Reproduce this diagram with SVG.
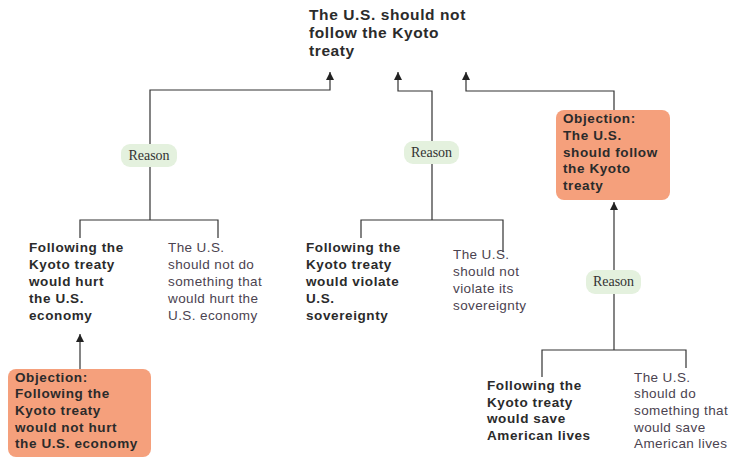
<svg xmlns="http://www.w3.org/2000/svg" width="730" height="457" viewBox="0 0 730 457">
<defs>
<marker id="arr" markerUnits="userSpaceOnUse" markerWidth="8" markerHeight="8" refX="8" refY="4" orient="auto">
<path d="M0,0 L8,4 L0,8 z" fill="#222"/>
</marker>
<style>
.ln{fill:none;stroke:#333;stroke-width:1.2}
.b{font-family:"Liberation Sans",Arial,sans-serif;font-weight:bold;font-size:13.5px;letter-spacing:0.6px;fill:#2b2b2b}
.main{font-size:15.5px;letter-spacing:0.6px}
.p{font-family:"Liberation Sans",Arial,sans-serif;font-size:13.5px;letter-spacing:0.4px;fill:#4b4350}
.obj{fill:#f5a07c}
.pill{fill:#e4f1de}
.rs{font-family:"Liberation Serif","Times New Roman",serif;font-size:14px;fill:#333;text-anchor:middle}
</style>
</defs>
<rect width="730" height="457" fill="#fff"/>
<g id="connectors">
<path class="ln" d="M150,220 V90 H330 V72" marker-end="url(#arr)"/>
<path class="ln" d="M432,220 V91 H398 V72" marker-end="url(#arr)"/>
<path class="ln" d="M614,110 V91 H466 V72" marker-end="url(#arr)"/>
<path class="ln" d="M80,238 V220 H218 V238"/>
<path class="ln" d="M361,238 V220 H503 V252"/>
<path class="ln" d="M80,369 V334" marker-end="url(#arr)"/>
<path class="ln" d="M614,350 V202" marker-end="url(#arr)"/>
<path class="ln" d="M542,377 V350 H686 V368"/>
</g>
<g id="reason1"><rect class="pill" x="121" y="144" width="56" height="23" rx="9"/><text class="rs" x="149" y="160">Reason</text></g>
<g id="reason2"><rect class="pill" x="404" y="141" width="55" height="23" rx="9"/><text class="rs" x="431.5" y="157">Reason</text></g>
<g id="reason3"><rect class="pill" x="586" y="270" width="55" height="24" rx="9"/><text class="rs" x="613.5" y="286">Reason</text></g>
<g id="main">
<text class="b main" x="309"><tspan x="309" y="20">The U.S. should not</tspan><tspan x="309" y="38">follow the Kyoto</tspan><tspan x="309" y="56">treaty</tspan></text>
</g>
<g id="claim1">
<text class="b"><tspan x="29" y="252">Following the</tspan><tspan x="29" y="269">Kyoto treaty</tspan><tspan x="29" y="286">would hurt</tspan><tspan x="29" y="303">the U.S.</tspan><tspan x="29" y="320">economy</tspan></text>
</g>
<g id="premise1">
<text class="p"><tspan x="168" y="252">The U.S.</tspan><tspan x="168" y="269">should not do</tspan><tspan x="168" y="286">something that</tspan><tspan x="168" y="303">would hurt the</tspan><tspan x="168" y="320">U.S. economy</tspan></text>
</g>
<g id="objection1">
<rect class="obj" x="8" y="369" width="143" height="88" rx="8"/>
<text class="b"><tspan x="15" y="382">Objection:</tspan><tspan x="15" y="398">Following the</tspan><tspan x="15" y="415">Kyoto treaty</tspan><tspan x="15" y="432">would not hurt</tspan><tspan x="15" y="448">the U.S. economy</tspan></text>
</g>
<g id="claim2">
<text class="b"><tspan x="306" y="252">Following the</tspan><tspan x="306" y="269">Kyoto treaty</tspan><tspan x="306" y="286">would violate</tspan><tspan x="306" y="303">U.S.</tspan><tspan x="306" y="320">sovereignty</tspan></text>
</g>
<g id="premise2">
<text class="p"><tspan x="453" y="259">The U.S.</tspan><tspan x="453" y="276">should not</tspan><tspan x="453" y="293">violate its</tspan><tspan x="453" y="310">sovereignty</tspan></text>
</g>
<g id="objection2">
<rect class="obj" x="556" y="110" width="114" height="90" rx="8"/>
<text class="b"><tspan x="563" y="123">Objection:</tspan><tspan x="563" y="140">The U.S.</tspan><tspan x="563" y="157">should follow</tspan><tspan x="563" y="173">the Kyoto</tspan><tspan x="563" y="190">treaty</tspan></text>
</g>
<g id="claim3">
<text class="b"><tspan x="487" y="390">Following the</tspan><tspan x="487" y="407">Kyoto treaty</tspan><tspan x="487" y="423">would save</tspan><tspan x="487" y="440">American lives</tspan></text>
</g>
<g id="premise3">
<text class="p"><tspan x="634" y="382">The U.S.</tspan><tspan x="634" y="398">should do</tspan><tspan x="634" y="415">something that</tspan><tspan x="634" y="432">would save</tspan><tspan x="634" y="448">American lives</tspan></text>
</g>
</svg>
